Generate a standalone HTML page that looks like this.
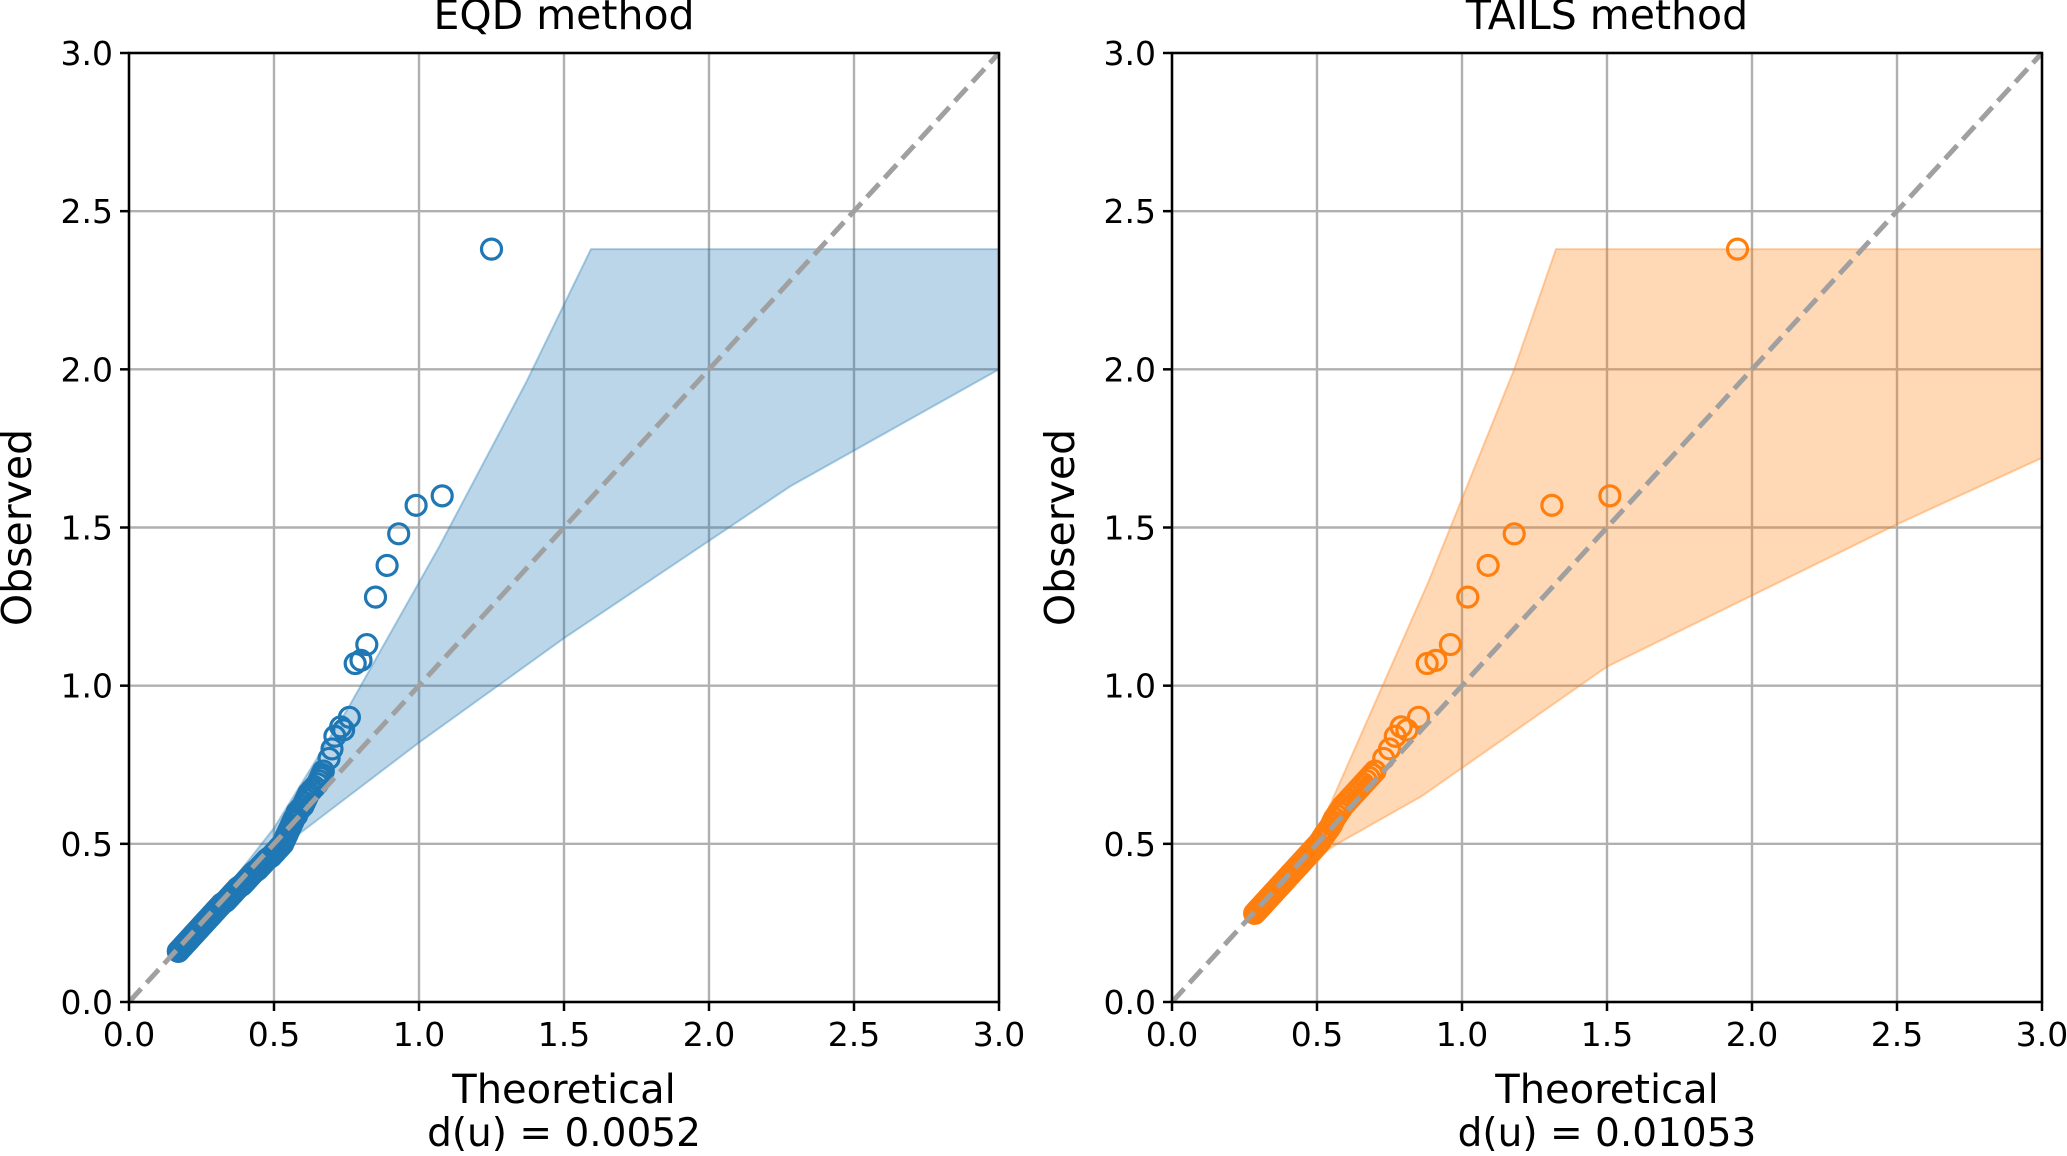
<!DOCTYPE html>
<html><head><meta charset="utf-8"><style>
html,body{margin:0;padding:0;background:#fff}
svg{display:block}
text{font-family:"DejaVu Sans","Liberation Sans",sans-serif;fill:#000}
</style></head><body>
<svg id="chart" width="2067" height="1156" viewBox="0 0 2067 1156" xmlns="http://www.w3.org/2000/svg"></svg>
<script>
const ticks = [0, 0.5, 1.0, 1.5, 2.0, 2.5, 3.0];
const tickLabels = ["0.0","0.5","1.0","1.5","2.0","2.5","3.0"];
const eqdObserved = [0.16,0.17,0.18,0.19,0.20,0.21,0.22,0.23,0.24,0.25,0.26,0.27,0.28,0.29,0.30,0.31,0.32,0.33,0.34,0.35,0.36,0.37,0.38,0.39,0.40,0.41,0.42,0.43,0.44,0.45,0.46,0.47,0.48,0.49,0.50,0.52,0.54,0.56,0.58,0.60,0.62,0.64,0.66,0.68,0.71,0.73,0.77,0.80,0.84,0.86,0.87,0.90,1.07,1.08,1.13,1.28,1.38,1.48,1.57,1.60,2.38,
  0.165,0.175,0.185,0.195,0.205,0.215,0.225,0.235,0.245,0.255,0.265,0.275,0.285,0.295,0.305,0.315,0.325,0.335,0.345,0.355,0.365,0.375,0.385,0.395,0.405,0.415,0.425,0.435,0.445,0.455,0.465,0.475,0.485,0.495,
  0.51,0.53,0.55,0.57,0.59,0.61,0.63,0.65,0.67,0.69,0.70,0.72];
const eqdTheoretical = [0.17,0.18,0.19,0.20,0.21,0.22,0.23,0.24,0.25,0.26,0.27,0.28,0.29,0.30,0.31,0.32,0.335,0.345,0.355,0.365,0.375,0.39,0.40,0.41,0.42,0.43,0.445,0.455,0.465,0.475,0.49,0.50,0.51,0.52,0.53,0.54,0.55,0.56,0.57,0.58,0.60,0.61,0.62,0.64,0.66,0.67,0.69,0.70,0.71,0.74,0.73,0.76,0.78,0.80,0.82,0.85,0.89,0.93,0.99,1.08,1.25,
  0.175,0.185,0.195,0.205,0.215,0.225,0.235,0.245,0.255,0.265,0.275,0.285,0.295,0.305,0.315,0.328,0.34,0.35,0.36,0.37,0.382,0.395,0.405,0.415,0.425,0.438,0.45,0.46,0.47,0.482,0.495,0.505,0.515,0.525,
  0.535,0.545,0.555,0.565,0.578,0.59,0.605,0.615,0.63,0.65,0.655,0.665];
const eqdBandUpperX = [0.16,0.38,0.50,0.756,1.07,1.37,1.593,3.0];
const eqdBandUpperY = [0.16,0.41,0.55,0.93,1.44,1.96,2.38,2.38];
const eqdBandLowerX = [0.16,0.38,0.57,1.0,1.5,2.28,3.0];
const eqdBandLowerY = [0.16,0.37,0.52,0.82,1.15,1.63,2.0];
const tailsObserved = [0.28,0.29,0.30,0.31,0.32,0.33,0.34,0.35,0.36,0.37,0.38,0.39,0.40,0.41,0.42,0.43,0.44,0.45,0.46,0.47,0.48,0.49,0.50,0.52,0.54,0.56,0.58,0.60,0.62,0.64,0.66,0.68,0.71,0.73,0.77,0.80,0.84,0.86,0.87,0.90,1.07,1.08,1.13,1.28,1.38,1.48,1.57,1.60,2.38,
  0.285,0.295,0.305,0.315,0.325,0.335,0.345,0.355,0.365,0.375,0.385,0.395,0.405,0.415,0.425,0.435,0.445,0.455,0.465,0.475,0.485,0.495,
  0.51,0.53,0.55,0.57,0.59,0.61,0.63,0.65,0.67,0.69,0.70,0.72];
const tailsTheoretical = [0.285,0.295,0.305,0.315,0.325,0.335,0.345,0.355,0.365,0.375,0.385,0.395,0.405,0.415,0.425,0.435,0.445,0.455,0.465,0.475,0.485,0.495,0.505,0.52,0.535,0.55,0.56,0.575,0.59,0.61,0.63,0.65,0.68,0.70,0.73,0.75,0.77,0.81,0.79,0.85,0.88,0.91,0.96,1.02,1.09,1.18,1.31,1.51,1.95,
  0.29,0.30,0.31,0.32,0.33,0.34,0.35,0.36,0.37,0.38,0.39,0.40,0.41,0.42,0.43,0.44,0.45,0.46,0.47,0.48,0.49,0.50,
  0.513,0.527,0.543,0.555,0.568,0.583,0.60,0.62,0.64,0.66,0.67,0.69];
const tailsBandUpperX = [0.28,0.42,0.50,0.885,1.18,1.324,3.0];
const tailsBandUpperY = [0.28,0.45,0.53,1.33,2.0,2.38,2.38];
const tailsBandLowerX = [0.28,0.42,0.57,0.86,1.5,2.5,3.0];
const tailsBandLowerY = [0.28,0.41,0.50,0.65,1.06,1.51,1.72];

const NS = "http://www.w3.org/2000/svg";
const svg = document.getElementById('chart');
function mk(tag, attrs, parent) {
  const e = document.createElementNS(NS, tag);
  for (const k in attrs) e.setAttribute(k, attrs[k]);
  (parent || svg).appendChild(e);
  return e;
}
const Y0 = 1002, Y1 = 53, W = 870;
function drawPanel(px, title, dtext, theo, obs, ux, uy, lx, ly, color, fill, prefix) {
  const g = mk('g', {});
  
  
  const sx = v => px + v / 3 * W;
  const sy = v => Y0 - v / 3 * (Y0 - Y1);
  ticks.forEach((t, i) => {
    const gx = mk('line', {x1: sx(t), x2: sx(t), y1: Y1, y2: Y0, stroke: '#b0b0b0', 'stroke-width': 2.4}, g);
    
    
    const gy = mk('line', {x1: px, x2: px + W, y1: sy(t), y2: sy(t), stroke: '#b0b0b0', 'stroke-width': 2.4}, g);
    
    
  });
  let d = '';
  ux.forEach((x, i) => { d += (i ? 'L' : 'M') + sx(x) + ' ' + sy(uy[i]); });
  for (let i = lx.length - 1; i >= 0; i--) d += 'L' + sx(lx[i]) + ' ' + sy(ly[i]);
  d += 'Z';
  const band = mk('path', {d: d, fill: fill, 'fill-opacity': 0.3, stroke: fill, 'stroke-opacity': 0.35, 'stroke-width': 2}, g);
  
  
  theo.forEach((t, i) => {
    const c = mk('circle', {cx: sx(t), cy: sy(obs[i]), r: 10, fill: 'none', stroke: color, 'stroke-width': 3.2}, g);
    
    
  });
  const ref = mk('line', {x1: sx(0), y1: sy(0), x2: sx(3), y2: sy(3), stroke: '#a0a0a0', 'stroke-width': 5, 'stroke-dasharray': '18 8'}, g);
  
  
  const fr = mk('rect', {x: px, y: Y1, width: W, height: Y0 - Y1, fill: 'none', stroke: '#000', 'stroke-width': 2.5}, g);
  
  
  ticks.forEach((t, i) => {
    mk('line', {x1: sx(t), x2: sx(t), y1: Y0, y2: Y0 + 9, stroke: '#000', 'stroke-width': 2.5}, g);
    mk('line', {x1: px - 9, x2: px, y1: sy(t), y2: sy(t), stroke: '#000', 'stroke-width': 2.5}, g);
    const xl = mk('text', {x: sx(t), y: Y0 + 44, 'font-size': 33, 'text-anchor': 'middle'}, g);
    xl.textContent = tickLabels[i];
    
    
    const yl = mk('text', {x: px - 16, y: sy(t) + 12, 'font-size': 33, 'text-anchor': 'end'}, g);
    yl.textContent = tickLabels[i];
    
    
  });
  const ti = mk('text', {x: px + W / 2, y: 29, 'font-size': 41, 'text-anchor': 'middle'}, g);
  ti.textContent = title;
  
  
  const xt = mk('text', {x: px + W / 2, y: 1103, 'font-size': 40, 'text-anchor': 'middle'}, g);
  xt.textContent = 'Theoretical';
  
  
  const dt = mk('text', {x: px + W / 2, y: 1146, 'font-size': 39, 'text-anchor': 'middle'}, g);
  dt.textContent = dtext;
  
  
  const yt = mk('text', {x: 0, y: 0, 'font-size': 41, 'text-anchor': 'middle', transform: 'translate(' + (px - 98) + ',' + ((Y0 + Y1) / 2) + ') rotate(-90)'}, g);
  yt.textContent = 'Observed';
  
  
}
drawPanel(129, 'EQD method', 'd(u) = 0.0052', eqdTheoretical, eqdObserved, eqdBandUpperX, eqdBandUpperY, eqdBandLowerX, eqdBandLowerY, '#1f77b4', '#1f77b4', 'eqd');
drawPanel(1172, 'TAILS method', 'd(u) = 0.01053', tailsTheoretical, tailsObserved, tailsBandUpperX, tailsBandUpperY, tailsBandLowerX, tailsBandLowerY, '#ff7f0e', '#ff7f0e', 'tails');
</script>
</body></html>
